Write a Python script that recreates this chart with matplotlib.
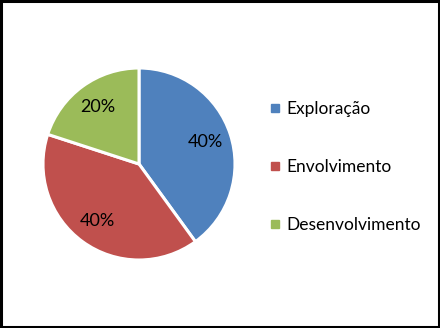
import matplotlib.pyplot as plt
from matplotlib.lines import Line2D
from matplotlib.patches import Rectangle

# dados do grafico
categorias = ["Exploração", "Envolvimento", "Desenvolvimento"]
valores = [40, 40, 20]
cores = ["#4F81BD", "#C0504D", "#9BBB59"]

plt.rcParams['font.family'] = ['Lato', 'DejaVu Sans']

fig = plt.figure(figsize=(4.4, 3.28), dpi=100)
fig.patch.set_facecolor('white')

# eixo do pizza: centro (139,164), raio ~96 px
W, H = 440, 328
ax = fig.add_axes([(139 - 96) / W, 1 - (164 + 96) / H, 192 / W, 192 / H])
ax.pie(valores, colors=cores, startangle=90, counterclock=False,
       autopct='%d%%', pctdistance=0.73,
       wedgeprops=dict(edgecolor='white', linewidth=2.2),
       textprops=dict(fontsize=13, color='black'))
ax.set_xlim(-1, 1)
ax.set_ylim(-1, 1)
ax.set_aspect('equal')

# legenda
handles = [Line2D([], [], marker='s', linestyle='none', markersize=6,
                  markerfacecolor=c, markeredgecolor=c) for c in cores]
fig.legend(handles, categorias, loc='upper left',
           bbox_to_anchor=(262 / W, 1 - 92 / H), frameon=False,
           fontsize=12.5, handlelength=0.5, handletextpad=0.4,
           labelspacing=2.42, borderpad=0)

# moldura preta
fig.patches.append(Rectangle((0.003, 0.004), 0.994, 0.992, transform=fig.transFigure,
                             fill=False, edgecolor='black', linewidth=2.2))

fig.savefig('out.png', dpi=100, facecolor=fig.get_facecolor())
